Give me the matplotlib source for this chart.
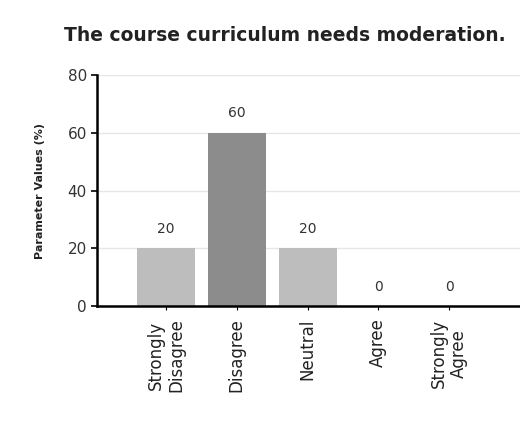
import matplotlib
matplotlib.use("Agg")
import matplotlib.pyplot as plt

categories = ["Strongly\nDisagree", "Disagree", "Neutral", "Agree", "Strongly\nAgree"]
values = [20, 60, 20, 0, 0]
yticks = [0, 20, 40, 60, 80]
title = "The course curriculum needs moderation."
ylabel = "Parameter Values (%)"

colors = ["#bdbdbd", "#8c8c8c", "#bdbdbd", "#bdbdbd", "#bdbdbd"]

fig = plt.figure(figsize=(5.2, 4.41), dpi=100)
ax = fig.add_axes([0.187, 0.306, 0.813, 0.524])
x = list(range(len(categories)))
bars = ax.bar(x, values, width=0.82, color=colors, zorder=2)
for xi, v in zip(x, values):
    ax.annotate(str(v), (xi, v), xytext=(0, 9), textcoords="offset points",
                ha="center", va="bottom", fontsize=10, color="#333333")

ax.set_xlim(-0.97, 5.0)
ax.set_ylim(0, 80)
ax.set_yticks(yticks)
ax.set_xticks(x)
ax.set_xticklabels(categories, rotation=90, fontsize=12, color="#222222",
                   ha="center", va="top", linespacing=1.15)
ax.tick_params(axis="y", labelsize=11, labelcolor="#333333", length=4, width=1.2)
ax.tick_params(axis="x", length=3, width=0.8, pad=6)
ax.yaxis.grid(True, color="#e6e6e6", linewidth=1.0, zorder=0)
ax.set_axisbelow(True)
for s in ["top", "right"]:
    ax.spines[s].set_visible(False)
ax.spines["left"].set_linewidth(1.8)
ax.spines["bottom"].set_linewidth(1.8)
ax.set_ylabel(ylabel, fontsize=8, fontweight="bold", color="#222222", labelpad=16)
fig.text(0.548, 0.92, title, ha="center", va="center", fontsize=13.5,
         fontweight="bold", color="#222222")

fig.savefig("out.png", dpi=100, facecolor="white")
